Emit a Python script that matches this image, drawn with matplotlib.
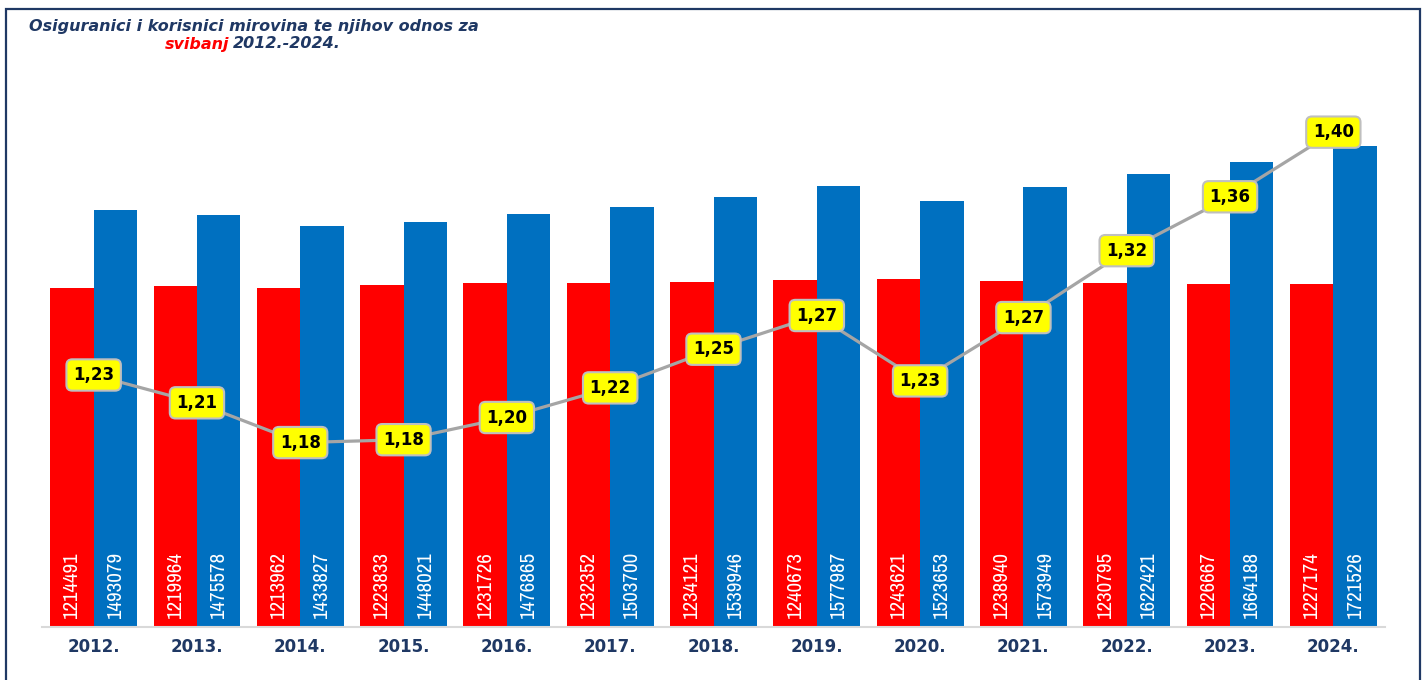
import numpy as np
import matplotlib
matplotlib.use('Agg')
from matplotlib import pyplot as plt
from matplotlib import font_manager as fm
from matplotlib.patches import Rectangle

# podaci
godine = ['2012.', '2013.', '2014.', '2015.', '2016.', '2017.', '2018.',
          '2019.', '2020.', '2021.', '2022.', '2023.', '2024.']
korisnici = [1214491, 1219964, 1213962, 1223833, 1231726, 1232352, 1234121,
             1240673, 1243621, 1238940, 1230795, 1226667, 1227174]
osiguranici = [1493079, 1475578, 1433827, 1448021, 1476865, 1503700, 1539946,
               1577987, 1523653, 1573949, 1622421, 1664188, 1721526]

odnos = np.array(osiguranici) / np.array(korisnici)
x = np.arange(len(godine))

# uski font za brojke ako postoji
uski = None
for f in fm.fontManager.ttflist:
    if ('Narrow' in f.name or 'Condensed' in f.name) and f.weight in (400, 'normal', 'regular'):
        uski = f.name
        break
if uski is None:
    for f in fm.fontManager.ttflist:
        if f.stretch in ('condensed', 'semi-condensed', 'extra-condensed') or 'Condensed' in f.fname:
            uski = f.name
            break
obitelj = [uski, 'DejaVu Sans'] if uski else ['DejaVu Sans']

W, H = 1427, 680
fig = plt.figure(figsize=(W / 100, H / 100), dpi=100)
ax = fig.add_axes([42 / W, (H - 627) / H, 1343 / W, 527 / H])

sirina = 0.42
ax.bar(x - sirina / 2, korisnici, sirina, color='#FF0000', zorder=2)
ax.bar(x + sirina / 2, osiguranici, sirina, color='#0070C0', zorder=2)

ax.set_xlim(-0.5, 12.5)
ax.set_ylim(0, 1.886e6)
ax.set_yticks([])
for s in ['top', 'left', 'right']:
    ax.spines[s].set_visible(False)
ax.spines['bottom'].set_color('#D9D9D9')
ax.spines['bottom'].set_linewidth(1.5)
ax.set_xticks(x)
ax.set_xticklabels(godine, fontsize=12, fontweight='bold', color='#1F3864')
ax.tick_params(axis='x', length=0, pad=8)

# brojke u stupcima
tekstovi = []
for xs, vals in [(x - sirina / 2, korisnici), (x + sirina / 2, osiguranici)]:
    for xi, v in zip(xs, vals):
        t = ax.annotate(str(v), (xi, 0), xytext=(0, 6), textcoords='offset points',
                        rotation=90, ha='center', va='bottom', color='white',
                        fontsize=17, family=obitelj, zorder=3)
        tekstovi.append(t)

# prilagodi velicinu da duljina bude oko 67 px
r = fig.canvas.get_renderer()
duljina = tekstovi[0].get_window_extent(r).height
nova = min(20, 17 * 67 / duljina)
for t in tekstovi:
    t.set_fontsize(nova)

# odnos - druga os
ax2 = ax.twinx()
ax2.set_ylim(1.0494, 1.4258)
ax2.axis('off')
ax2.plot(x, odnos, color='#A5A5A5', lw=2.3, zorder=4)
for xi, rr in zip(x, odnos):
    ax2.text(xi, rr, f'{rr:.2f}'.replace('.', ','), ha='center', va='center',
             fontsize=12, fontweight='bold', color='black', zorder=5,
             bbox=dict(boxstyle='round,pad=0.4,rounding_size=0.35', fc='#FFFF00',
                       ec='#BFBFBF', lw=1.5))

# naslov
fig.text(254 / W, 1 - 27 / H, 'Osiguranici i korisnici mirovina te njihov odnos za',
         ha='center', va='center', fontsize=11.5, fontweight='bold', style='oblique',
         color='#1F3864')
fig.text(229 / W, 1 - 44 / H, 'svibanj', ha='right', va='center', fontsize=11.5,
         fontweight='bold', style='oblique', color='#FF0000')
fig.text(233 / W, 1 - 44 / H, '2012.-2024.', ha='left', va='center', fontsize=11.5,
         fontweight='bold', style='oblique', color='#1F3864')

# okvir
fig.patches.append(Rectangle((6 / W, -0.05), (1420 - 6) / W, 1.05 - 9 / H,
                             transform=fig.transFigure, fill=False,
                             ec='#1F3864', lw=1.6))

fig.savefig('out.png', dpi=100)
